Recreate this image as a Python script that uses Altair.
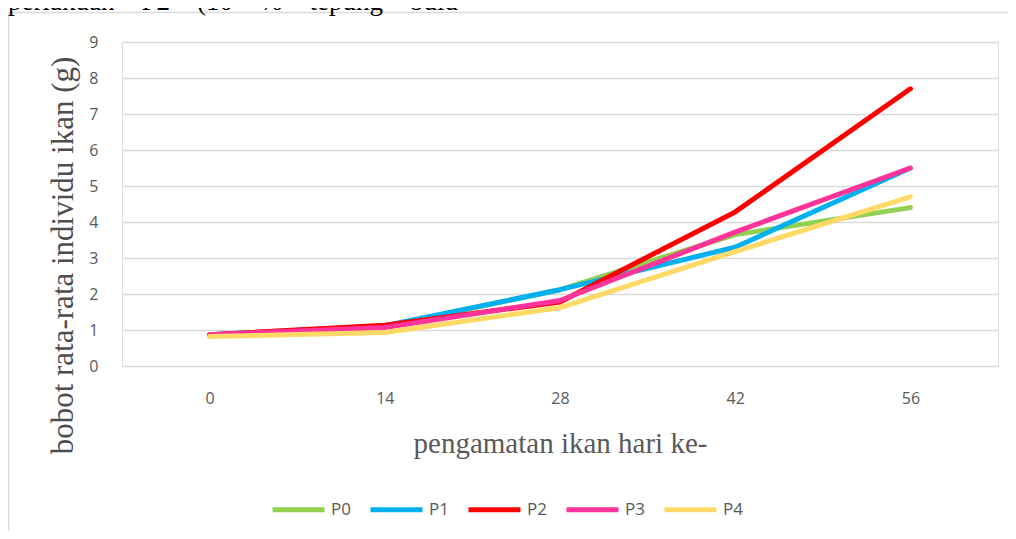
import altair as alt
import pandas as pd

days = ["0", "14", "28", "42", "56"]
series = ["P0", "P1", "P2", "P3", "P4"]
P0 = [0.85, 1.10, 2.12, 3.65, 4.40]
P1 = [0.87, 1.12, 2.12, 3.30, 5.50]
P2 = [0.87, 1.13, 1.78, 4.28, 7.70]
P3 = [0.87, 1.07, 1.82, 3.72, 5.50]
P4 = [0.82, 0.93, 1.62, 3.18, 4.70]
colors = ["#92d050", "#00b0f0", "#ff0000", "#ff3399", "#ffd966"]

x_title = "pengamatan ikan hari ke-"
y_title = "bobot rata-rata individu ikan (g)"
sp = "\u00a0\u00a0\u00a0\u00a0"
top_text = "perlakuan" + sp + "P2" + sp + "(10" + sp + "%" + sp + "tepung" + sp + "bulu"

rows = []
for name, vals in zip(series, [P0, P1, P2, P3, P4]):
    for d, v in zip(days, vals):
        rows.append({"hari": d, "seri": name, "bobot": v})
df = pd.DataFrame(rows)
one = pd.DataFrame({"k": [0]})

lines = alt.Chart(df).mark_line(strokeWidth=5, strokeCap="round", strokeJoin="round").encode(
    x=alt.X("hari:N", sort=days, scale=alt.Scale(type="point", padding=0.5),
            axis=alt.Axis(title=x_title, labelAngle=0, domain=False, ticks=False, grid=False,
                          labelPadding=24, labelFontSize=16, labelColor="#595959",
                          labelFont="Open Sans",
                          titleFont="Liberation Serif", titleFontSize=29, titleFontWeight="normal",
                          titleColor="#595959", titleY=86, titleBaseline="alphabetic")),
    y=alt.Y("bobot:Q", scale=alt.Scale(domain=[0, 9], nice=False),
            axis=alt.Axis(title=y_title, values=list(range(10)), domain=False, ticks=False,
                          grid=True, gridColor="#d9d9d9", gridWidth=1.3,
                          labelPadding=24, labelFontSize=16, labelColor="#595959",
                          labelFont="Open Sans",
                          titleFont="Liberation Serif", titleFontSize=31, titleFontWeight="normal",
                          titleColor="#4d4d4d", titleX=-50, titleY=213, titleAlign="center",
                          titleBaseline="alphabetic")),
    color=alt.Color("seri:N", scale=alt.Scale(domain=series, range=colors),
                    legend=alt.Legend(title=None, orient="none", direction="horizontal",
                                      legendX=148, legendY=439, symbolType="stroke",
                                      symbolSize=2700, symbolStrokeWidth=5,
                                      labelFontSize=17, labelColor="#595959",
                                      labelFont="Open Sans", labelOffset=4,
                                      columnPadding=9)),
)

top = alt.Chart(one).mark_text(align="left", baseline="alphabetic", font="Liberation Serif",
                               fontSize=27, color="#000000").encode(
    x=alt.value(-114), y=alt.value(-32), text=alt.value(top_text))

frame_top = alt.Chart(one).mark_rule(color="#d9d9d9", strokeWidth=1.5).encode(
    x=alt.value(-113.5), x2=alt.value(886), y=alt.value(-29.5))
frame_left = alt.Chart(one).mark_rule(color="#d9d9d9", strokeWidth=1.5).encode(
    x=alt.value(-113.5), y=alt.value(-29.5), y2=alt.value(500))

chart = alt.layer(frame_top, frame_left, lines, top).properties(
    width=876, height=324,
    padding={"left": 114, "top": 34, "right": 10, "bottom": 165},
    autosize=alt.AutoSizeParams(type="none"),
).configure_view(stroke=None).configure(background="white")

chart.save("out.html", embed_options={"renderer": "svg", "actions": False})
